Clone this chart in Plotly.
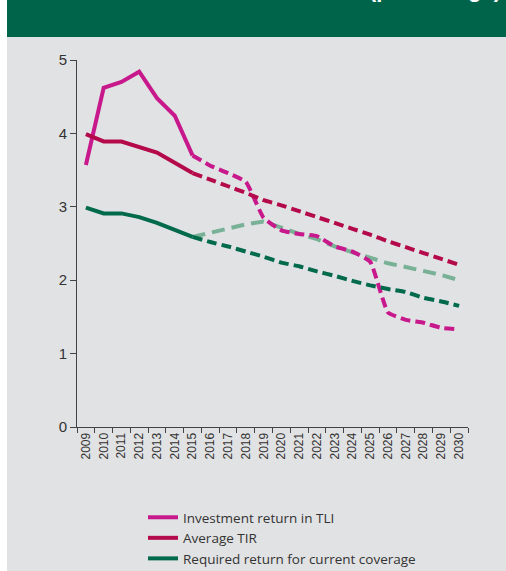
import plotly.graph_objects as go

W, H = 506, 571
years = [str(y) for y in range(2009, 2031)]
y_ticks = [0, 1, 2, 3, 4, 5]

# actual / projected values (percent)
tli_actual = [3.57, 4.62, 4.70, 4.84, 4.48, 4.24, 3.70]
tli_proj = [3.70, 3.56, 3.46, 3.34, 2.85, 2.68, 2.63, 2.60, 2.46, 2.39, 2.25,
            1.56, 1.46, 1.42, 1.35, 1.33]
tir_actual = [3.99, 3.89, 3.89, 3.82, 3.74, 3.60, 3.46]
tir_proj = [3.46, 3.37, 3.28, 3.19, 3.09, 3.02, 2.94, 2.86, 2.78, 2.70, 2.62,
            2.53, 2.45, 2.37, 2.29, 2.21]
req_actual = [2.99, 2.91, 2.91, 2.86, 2.78, 2.69, 2.59]
req_proj = [2.59, 2.52, 2.46, 2.39, 2.32, 2.24, 2.19, 2.12, 2.06, 1.99, 1.93,
            1.88, 1.84, 1.76, 1.71, 1.65]
req_alt = [2.59, 2.65, 2.71, 2.76, 2.80, 2.71, 2.63, 2.56, 2.46, 2.38, 2.31,
           2.23, 2.18, 2.13, 2.07, 2.00]

names = ["Investment return in TLI", "Average TIR",
         "Required return for current coverage"]
PINK, RED, GREEN, LIGHT = "#c8198c", "#b40a4c", "#006a4b", "#79b197"
HEADER, BG = "#00644b", "#e1e2e3"

act_x = years[:7]
proj_x = years[6:]

fig = go.Figure()
# light dashed line first so it sits under the others
fig.add_trace(go.Scatter(x=proj_x, y=req_alt, mode="lines", showlegend=False,
                         line=dict(color=LIGHT, width=4, dash="13px,7px")))
for vals, proj, name, col in [(tli_actual, tli_proj, names[0], PINK),
                              (tir_actual, tir_proj, names[1], RED),
                              (req_actual, req_proj, names[2], GREEN)]:
    fig.add_trace(go.Scatter(x=act_x, y=vals, mode="lines", name=name,
                             line=dict(color=col, width=4)))
    fig.add_trace(go.Scatter(x=proj_x, y=proj, mode="lines", showlegend=False,
                             line=dict(color=col, width=4, dash="10px,5px",
                                       shape="spline", smoothing=0.4)))

L, R, T, B = 77, 38, 60, 144
pw, ph = W - L - R, H - T - B


def px(x):
    return (x - L) / pw


def py(y):
    return (H - B - y) / ph


fig.update_layout(
    width=W, height=H,
    margin=dict(l=L, r=R, t=T, b=B, autoexpand=False),
    paper_bgcolor=BG, plot_bgcolor=BG,
    font=dict(family="Liberation Sans Narrow, Liberation Sans, Arial", color="#333333"),
    showlegend=True,
    legend=dict(x=px(143), y=py(502), xanchor="left", yanchor="top",
                bgcolor="rgba(0,0,0,0)",
                font=dict(size=13.5, color="#333333", family="Open Sans"),
                itemwidth=30, tracegroupgap=0),
    shapes=[
        dict(type="rect", xref="paper", yref="paper", x0=px(-2), x1=px(7),
             y0=py(H + 2), y1=py(-2), fillcolor="white", line_width=0, layer="below"),
        dict(type="rect", xref="paper", yref="paper", x0=px(7), x1=px(W + 2),
             y0=py(37), y1=py(-2), fillcolor=HEADER, line_width=0, layer="below"),
    ],
    annotations=[
        dict(text="<b>(percentage)</b>", xref="paper", yref="paper",
             x=px(503), y=py(4), xanchor="right", yanchor="bottom",
             showarrow=False, font=dict(size=22, color="white",
                                        family="Liberation Sans"))
    ],
)
fig.update_xaxes(type="category", categoryorder="array", categoryarray=years,
                 range=[-0.5, 21.5], tickson="boundaries",
                 ticks="outside", ticklen=5, tickcolor="#444", tickangle=-90,
                 showline=True, linecolor="#444", linewidth=1, showgrid=False,
                 tickfont=dict(size=12, color="#333"), zeroline=False)
fig.update_yaxes(range=[0, 5], tickvals=y_ticks, ticks="outside", ticklen=6,
                 tickcolor="#444", showline=True, linecolor="#444", linewidth=1,
                 showgrid=False, zeroline=False,
                 tickfont=dict(size=15, color="#333"))

fig.write_html("out.html", config={"displayModeBar": False},
               post_script="document.body.style.margin='0';")
